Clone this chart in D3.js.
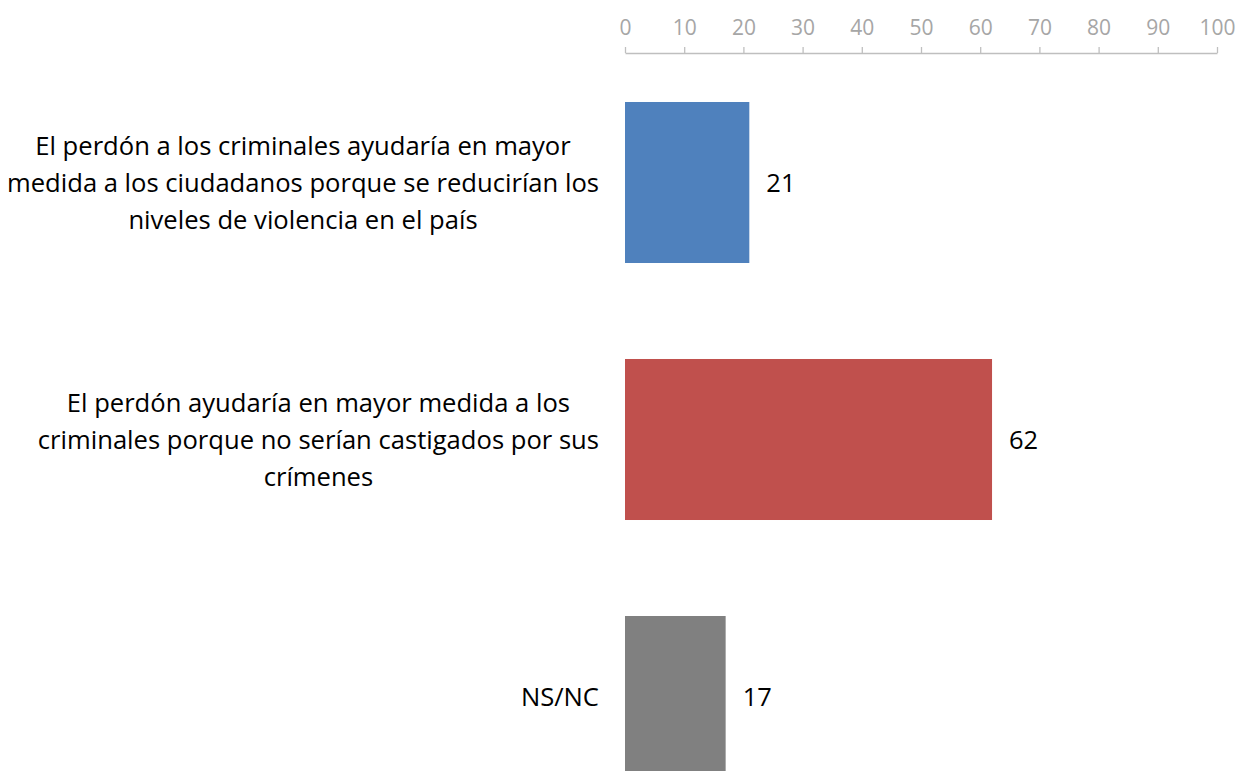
<!DOCTYPE html>
<html>
<head>
<meta charset="utf-8">
<script src="https://cdn.jsdelivr.net/npm/d3@7"></script>
<style>
  html, body { margin: 0; padding: 0; background: #fff; overflow: hidden; }
  svg { display: block; font-family: "Open Sans", sans-serif; }
</style>
</head>
<body>
<svg id="chart" width="1238" height="771"></svg>
<script>
const categories = [
  ["El perdón a los criminales ayudaría en mayor", "medida a los ciudadanos porque se reducirían los", "niveles de violencia en el país"],
  ["El perdón ayudaría en mayor medida a los", "criminales porque no serían castigados por sus", "crímenes"],
  ["NS/NC"]
];
const values = [21, 62, 17];
const colors = ["#4f81bd", "#c0504d", "#808080"];
const tickValues = [0, 10, 20, 30, 40, 50, 60, 70, 80, 90, 100];

const svg = d3.select("#chart");
const keys = categories.map((d, i) => i);

const x = d3.scaleLinear().domain([0, 100]).range([625, 1217]);
const y = d3.scaleBand().domain(keys).range([54, 825]).paddingInner(0.3735).paddingOuter(0.18675);

// Axis on top
const axis = d3.axisTop(x).tickValues(tickValues).tickSize(6).tickPadding(12).tickSizeOuter(0);
const gAx = svg.append("g").attr("transform", "translate(0,53)").call(axis);
gAx.select(".domain").attr("stroke", "#bfbfbf").attr("stroke-width", 1.3);
gAx.selectAll(".tick line").attr("stroke", "#bfbfbf").attr("stroke-width", 1.3);
gAx.selectAll(".tick text").attr("fill", "#a6a6a6").attr("font-size", 21)
  .attr("font-family", "Open Sans, sans-serif");

// Bars
svg.append("g").selectAll("rect").data(values).join("rect")
  .attr("x", x(0))
  .attr("y", (d, i) => y(i))
  .attr("width", d => x(d) - x(0))
  .attr("height", y.bandwidth())
  .attr("fill", (d, i) => colors[i]);

// Value labels
svg.append("g").selectAll("text").data(values).join("text")
  .attr("x", d => x(d) + 17)
  .attr("y", (d, i) => y(i) + y.bandwidth() / 2)
  .attr("dy", "0.36em")
  .attr("font-size", 25.5)
  .attr("fill", "#000")
  .text(d => d);

// Category labels
const catFont = 25.6;
const lineH = 37;
const rightEdge = 599;
const gCat = svg.append("g").attr("font-size", catFont).attr("fill", "#000");
categories.forEach((lines, i) => {
  const cy = y(i) + y.bandwidth() / 2 + 1;
  const t = gCat.append("text").attr("text-anchor", "middle");
  lines.forEach((ln, j) => {
    t.append("tspan").attr("y", cy + (j - (lines.length - 1) / 2) * lineH).attr("dy", "0.35em").text(ln);
  });
  let maxW = 0;
  t.selectAll("tspan").each(function() { maxW = Math.max(maxW, this.getComputedTextLength()); });
  t.selectAll("tspan").attr("x", rightEdge - maxW / 2);
});
</script>
</body>
</html>
